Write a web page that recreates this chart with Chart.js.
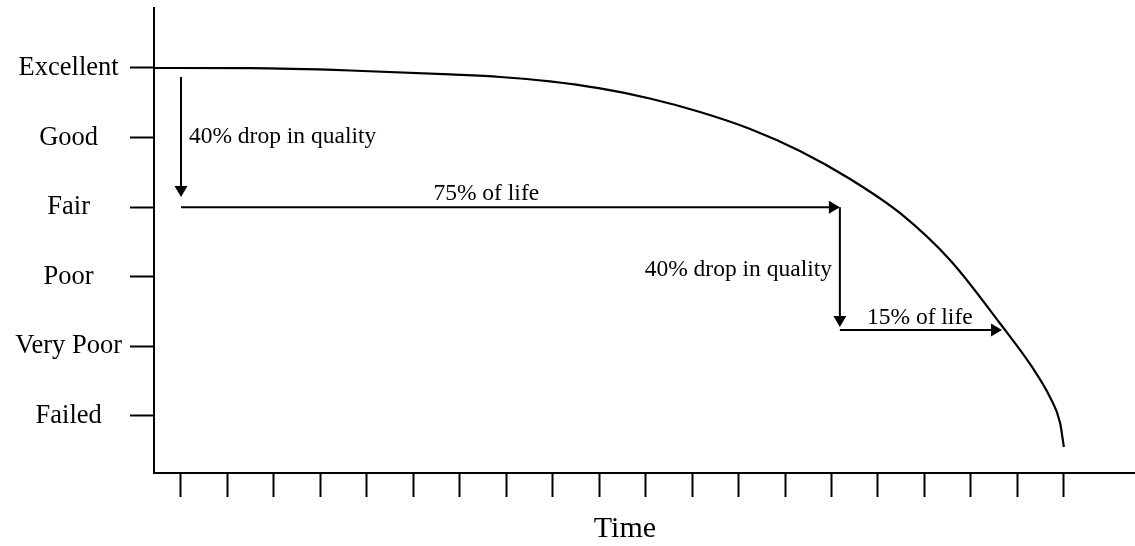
<!DOCTYPE html>
<html>
<head>
<meta charset="utf-8">
<script src="https://cdn.jsdelivr.net/npm/chart.js@4/dist/chart.umd.min.js"></script>
<style>
  body { margin: 0; background: #fff; }
  canvas { display: block; }
</style>
</head>
<body>
<canvas id="chart" width="1135" height="546"></canvas>
<script>
// condition rating, 0 = Failed ... 5 = Excellent
const ratingLabels = ['Failed', 'Very Poor', 'Poor', 'Fair', 'Good', 'Excellent'];
const ratingTicks = [0, 1, 2, 3, 4, 5];
const timeTicks = [0, 1, 2, 3, 4, 5, 6, 7, 8, 9, 10, 11, 12, 13, 14, 15, 16, 17, 18, 19];

// deterioration curve
const curveX = [-0.58, 1.49, 3.64, 5.79, 6.87, 7.94, 9.02, 10.09, 11.17, 12.25, 13.32, 14.40, 15.47, 16.55, 17.62, 18.33, 18.70, 18.92, 19.0];
const curveY = [5.0, 4.997, 4.964, 4.907, 4.871, 4.807, 4.706, 4.562, 4.368, 4.124, 3.808, 3.405, 2.917, 2.241, 1.336, 0.69, 0.273, -0.10, -0.445];

// arrows (start -> tip), in chart values
const arrowX1 = [0, 0, 14.18, 14.18];
const arrowY1 = [4.87, 3.0, 3.0, 1.236];
const arrowX2 = [0, 14.18, 14.18, 17.67];
const arrowY2 = [3.147, 3.0, 1.279, 1.236];

// annotation texts
const noteText = ['40% drop in quality', '75% of life', '40% drop in quality', '15% of life'];
const noteX = [0.17, 6.57, 14.01, 15.90];
const noteY = [3.92, 3.103, 2.01, 1.32];
const noteAlign = ['left', 'center', 'right', 'center'];

const axisTitle = 'Time';
const axisTitleX = 9.555;
const axisTitleY = -1.739;

const serif = '"Liberation Serif", "Times New Roman", serif';

const annotations = {
  id: 'annotations',
  afterDraw(chart) {
    const ctx = chart.ctx;
    const xs = chart.scales.x;
    const ys = chart.scales.y;
    ctx.save();
    ctx.strokeStyle = '#000';
    ctx.fillStyle = '#000';
    ctx.lineWidth = 2;

    arrowX1.forEach((x1, i) => {
      const ax = xs.getPixelForValue(x1);
      const ay = ys.getPixelForValue(arrowY1[i]);
      const bx = xs.getPixelForValue(arrowX2[i]);
      const by = ys.getPixelForValue(arrowY2[i]);
      const ang = Math.atan2(by - ay, bx - ax);
      const len = 11, half = 6.5;
      const baseX = bx - len * Math.cos(ang);
      const baseY = by - len * Math.sin(ang);
      ctx.beginPath();
      ctx.moveTo(ax, ay);
      ctx.lineTo(baseX, baseY);
      ctx.stroke();
      ctx.beginPath();
      ctx.moveTo(bx, by);
      ctx.lineTo(baseX + half * Math.sin(ang), baseY - half * Math.cos(ang));
      ctx.lineTo(baseX - half * Math.sin(ang), baseY + half * Math.cos(ang));
      ctx.closePath();
      ctx.fill();
    });

    ctx.textBaseline = 'alphabetic';
    ctx.font = '23.5px ' + serif;
    noteText.forEach((t, i) => {
      ctx.textAlign = noteAlign[i];
      ctx.fillText(t, xs.getPixelForValue(noteX[i]), ys.getPixelForValue(noteY[i]));
    });

    ctx.font = '30px ' + serif;
    ctx.textAlign = 'center';
    ctx.fillText(axisTitle, xs.getPixelForValue(axisTitleX), ys.getPixelForValue(axisTitleY));
    ctx.restore();
  }
};

const ctx = document.getElementById('chart').getContext('2d');
new Chart(ctx, {
  type: 'line',
  data: {
    datasets: [{
      data: curveX.map((x, i) => ({ x, y: curveY[i] })),
      borderColor: '#000',
      borderWidth: 2.2,
      pointRadius: 0,
      fill: false,
      cubicInterpolationMode: 'monotone'
    }]
  },
  options: {
    responsive: false,
    animation: false,
    layout: { padding: { top: 8, right: 1, left: 0, bottom: 0 } },
    plugins: {
      legend: { display: false },
      tooltip: { enabled: false }
    },
    scales: {
      x: {
        type: 'linear',
        min: -0.581,
        max: 20.51,
        afterBuildTicks: scale => { scale.ticks = timeTicks.map(v => ({ value: v })); },
        afterFit: scale => {
          scale.height = 73;
          scale.paddingLeft = 0;
          scale.paddingRight = 0;
        },
        ticks: { display: false },
        grid: {
          drawOnChartArea: false,
          drawTicks: true,
          tickLength: 24,
          tickColor: '#000',
          tickWidth: 2
        },
        border: { color: '#000', width: 2 }
      },
      y: {
        type: 'linear',
        min: -0.819,
        max: 5.862,
        afterBuildTicks: scale => { scale.ticks = ratingTicks.map(v => ({ value: v })); },
        afterFit: scale => {
          scale.width = 154;
          scale.paddingTop = 0;
          scale.paddingBottom = 0;
        },
        ticks: {
          autoSkip: false,
          crossAlign: 'center',
          padding: 8,
          color: '#000',
          font: { family: serif, size: 26.5 },
          callback: v => ratingLabels[v]
        },
        grid: {
          drawOnChartArea: false,
          drawTicks: true,
          tickLength: 24,
          tickColor: '#000',
          tickWidth: 2
        },
        border: { color: '#000', width: 2 }
      }
    }
  },
  plugins: [annotations]
});
</script>
</body>
</html>
